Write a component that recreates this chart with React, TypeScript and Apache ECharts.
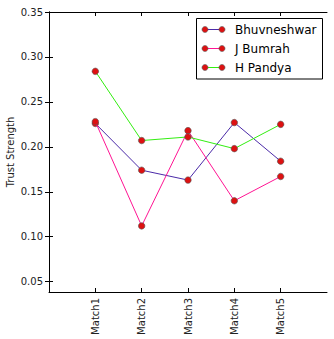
import React, { useEffect, useRef } from "react";
import * as echarts from "echarts";

const categories = ["Match1", "Match2", "Match3", "Match4", "Match5"];
const seriesNames = ["Bhuvneshwar", "J Bumrah", "H Pandya"];
const bhuvneshwar = [0.226, 0.174, 0.163, 0.227, 0.184];
const bumrah = [0.228, 0.112, 0.218, 0.140, 0.167];
const pandya = [0.284, 0.207, 0.211, 0.198, 0.225];
const seriesColors = ["#4b2aa8", "#ff1493", "#33ee11"];
const yTicks = [0.05, 0.1, 0.15, 0.2, 0.25, 0.3, 0.35];

const FONT = "DejaVu Sans";

export default function App() {
  const ref = useRef<HTMLDivElement>(null);
  useEffect(() => {
    const chart = echarts.init(ref.current!, undefined, { renderer: "svg" });
    const values = [bhuvneshwar, bumrah, pandya];
    const xTicks = categories.map((_, i) => i + 1);
    const yMin = 0.0385;
    const yMax = 0.35;
    const axisLine = { show: true, lineStyle: { color: "#000", width: 1 } };
    const xTick = { show: true, inside: true, length: 4, customValues: xTicks, lineStyle: { color: "#000", width: 1 } };
    const yTick = { show: true, inside: true, length: 4, customValues: yTicks, lineStyle: { color: "#000", width: 1 } };
    const xFmt = (v: number) => {
      const i = Math.round(v) - 1;
      return i >= 0 && i < categories.length ? categories[i] : "";
    };
    const yFmt = (v: number) => v.toFixed(2);
    const legendRows = seriesNames.flatMap((name, i) => {
      const y = 29.5 + i * 19;
      return [
        { type: "line", shape: { x1: 205, y1: y, x2: 222, y2: y }, style: { stroke: seriesColors[i], lineWidth: 1 } },
        { type: "circle", shape: { cx: 205, cy: y, r: 3 }, style: { fill: "#dd1111", stroke: "#555", lineWidth: 0.6 } },
        { type: "circle", shape: { cx: 222, cy: y, r: 3 }, style: { fill: "#dd1111", stroke: "#555", lineWidth: 0.6 } },
        {
          type: "text",
          x: 235,
          y: y,
          style: { text: name, font: `12px "${FONT}"`, fill: "#000", textVerticalAlign: "middle", verticalAlign: "middle" },
        },
      ];
    });
    chart.setOption({
      animation: false,
      backgroundColor: "#fff",
      grid: { left: 49, right: 7, top: 12, bottom: 47, containLabel: false, outerBoundsMode: "none" },
      xAxis: [
        {
          type: "value",
          min: 0,
          max: categories.length + 1,
          position: "bottom",
          axisLine,
          axisTick: xTick,
          splitLine: { show: false },
          axisLabel: {
            customValues: xTicks,
            formatter: xFmt,
            rotate: 90,
            fontFamily: FONT,
            fontSize: 10,
            color: "#222",
            margin: 6,
          },
        },
        {
          type: "value",
          min: 0,
          max: categories.length + 1,
          position: "top",
          axisLine,
          axisTick: xTick,
          splitLine: { show: false },
          axisLabel: { show: false },
        },
      ],
      yAxis: [
        {
          type: "value",
          min: yMin,
          max: yMax,
          position: "left",
          name: "Trust Strength",
          nameLocation: "middle",
          nameGap: 34,
          nameMoveOverlap: false,
          nameTextStyle: { fontFamily: FONT, fontSize: 10, color: "#222" },
          axisLine,
          axisTick: yTick,
          splitLine: { show: false },
          axisLabel: { customValues: yTicks, formatter: yFmt, fontFamily: FONT, fontSize: 10, color: "#222", margin: 6 },
        },
        {
          type: "value",
          min: yMin,
          max: yMax,
          position: "right",
          axisLine,
          axisTick: yTick,
          splitLine: { show: false },
          axisLabel: { show: false },
        },
      ],
      graphic: [
        {
          type: "rect",
          shape: { x: 196.5, y: 18.5, width: 126, height: 60.5 },
          style: { fill: "#fff", stroke: "#000", lineWidth: 1 },
          z: 100,
        },
        ...legendRows.map((e) => ({ ...e, z: 101 })),
      ],
      series: seriesNames.map((name, i) => ({
        name,
        type: "line",
        xAxisIndex: 0,
        yAxisIndex: 0,
        data: values[i].map((v, j) => [j + 1, v]),
        symbol: "circle",
        symbolSize: 6.5,
        showSymbol: true,
        lineStyle: { color: seriesColors[i], width: 1 },
        itemStyle: { color: "#dd1111", borderColor: "#555", borderWidth: 0.6 },
        z: 2 + i,
      })),
    });
    return () => chart.dispose();
  }, []);
  return <div ref={ref} style={{ width: 334, height: 339, position: "absolute", left: 0, top: 0 }} />;
}
